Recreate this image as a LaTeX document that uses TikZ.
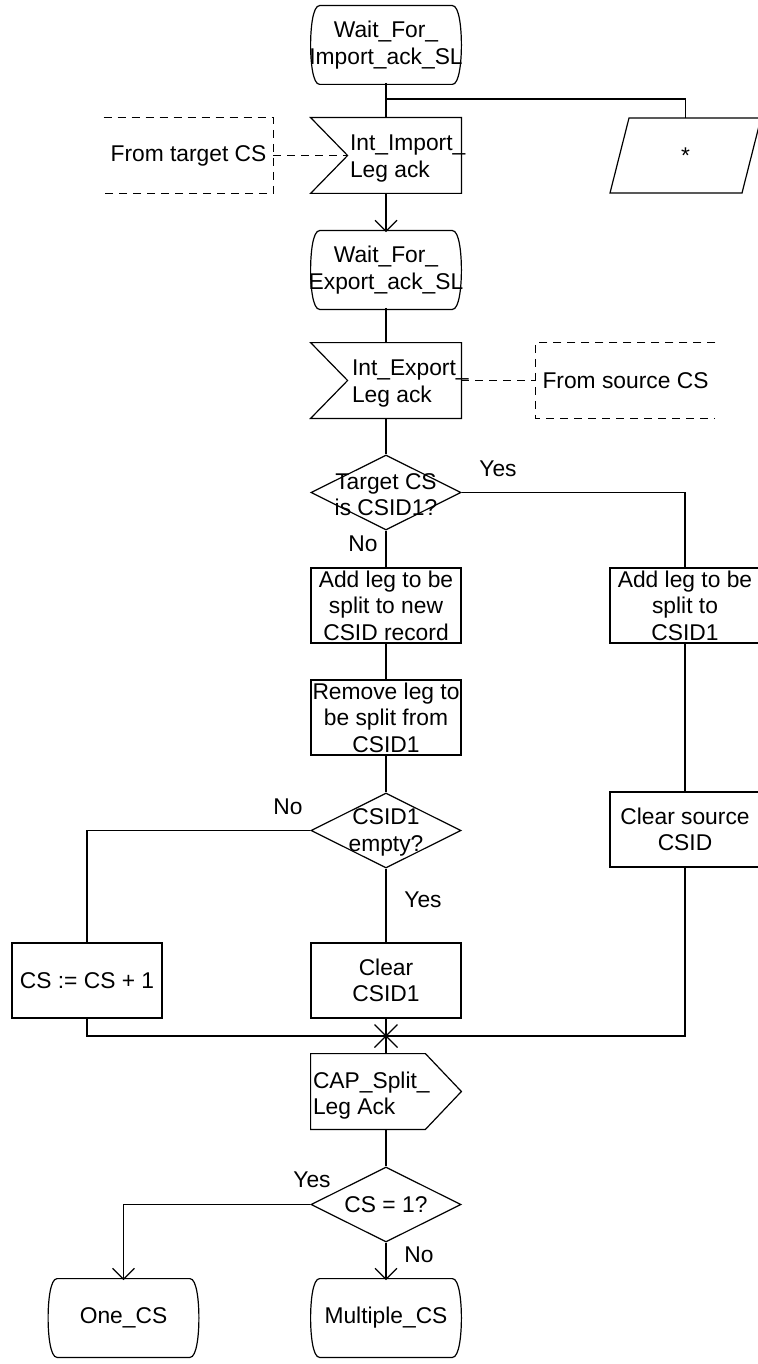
\documentclass[tikz,border=0pt]{standalone}
\usepackage{fontspec}
\setmainfont{Liberation Sans}
\usetikzlibrary{arrows.meta,shapes.geometric,calc}
\tikzset{
  txt/.style={font=\fontsize{11.4}{13.25}\selectfont, align=center, inner sep=0pt},
  box/.style={txt, draw, line width=0.6pt, minimum width=75pt, minimum height=37.5pt,
              inner xsep=-12pt, inner ysep=-8pt},
  statebox/.style={txt, minimum width=75pt, minimum height=37.5pt, inner xsep=-12pt, inner ysep=-8pt},
  decision/.style={draw, line width=0.6pt, diamond, shape aspect=2, minimum width=75pt,
                   minimum height=37.5pt, inner sep=0pt},
  sigbox/.style={txt, minimum width=75pt, minimum height=37.5pt},
  note/.style={txt, minimum height=37.5pt},
  ln/.style={line width=0.6pt},
  ar/.style={ln, -{Straight Barb[length=5.5pt,width=11pt]}},
  dsh/.style={ln, dash pattern=on 4pt off 3pt}
}
\begin{document}
\begin{tikzpicture}[x=0.5pt,y=-0.5pt]
  \useasboundingbox (0,0) rectangle (758,1364);
  % states
  \node[statebox] (w1) at (386,45) {Wait\_For\_\\Import\_ack\_SL};
  \node[statebox] (w2) at (386,270) {Wait\_For\_\\Export\_ack\_SL};
  \node[statebox] (one) at (123.5,1318) {One\_CS};
  \node[statebox] (multi) at (386,1318) {Multiple\_CS};
  \foreach \n in {w1,w2,one,multi}
    \draw[ln] ($(\n.north west)+(9,-1.5)$) -- ($(\n.north east)+(-9,-1.5)$)
      .. controls +(7,0) and +(0,-16) .. (\n.east)
      .. controls +(0,16) and +(7,0) .. ($(\n.south east)+(-9,1.5)$)
      -- ($(\n.south west)+(9,1.5)$)
      .. controls +(-7,0) and +(0,16) .. (\n.west)
      .. controls +(0,-16) and +(-7,0) .. cycle;

  % input signals
  \node[sigbox] (imp) at (386,155.5) {};
  \draw[ln] (imp.north west) -- (imp.north east) -- (imp.south east) -- (imp.south west)
    -- ($(imp.west)+(37,0)$) coordinate (impin) -- cycle;
  \node[txt, anchor=west, align=left] (imptxt) at ($(imp.west)+(39,3)$) {Int\_Import\_\\Leg ack};
  \node[sigbox] (exp) at (386,380.5) {};
  \draw[ln] (exp.north west) -- (exp.north east) -- (exp.south east) -- (exp.south west)
    -- ($(exp.west)+(37,0)$) -- cycle;
  \node[txt, anchor=west, align=left] (exptxt) at ($(exp.west)+(41,3)$) {Int\_Export\_\\Leg ack};

  % output signal
  \node[sigbox] (cap) at (386,1091.5) {};
  \draw[ln] (cap.north west) -- ($(cap.north east)+(-36,0)$) -- (cap.east)
    -- ($(cap.south east)+(-36,0)$) -- (cap.south west) -- cycle;
  \node[txt, anchor=west, align=left] (captxt) at ($(cap.west)+(2,4)$) {CAP\_Split\_\\Leg Ack};

  % save symbol
  \node[sigbox] (star) at (685.5,155.5) {*};
  \draw[ln, shift={(star.center)}] (-75.5,37.5) -- (-56.5,-37.5) -- (75.5,-37.5) -- (56.5,37.5) -- cycle;

  % environment
  \node[note, minimum width=84.5pt] (tgt) at (188.5,155.5) {From target CS};
  \draw[dsh] (tgt.north west) -- (tgt.north east) -- (tgt.south east) -- (tgt.south west);
  \node[note, minimum width=89.5pt] (src) at (625.5,380.5) {From source CS};
  \draw[dsh] (src.north east) -- (src.north west) -- (src.south west) -- (src.south east);

  % decisions
  \node[decision, label={[txt, yshift=-1pt]center:Target CS\\is CSID1?}] (d1) at (386,492.5) {};
  \node[decision, label={[txt, yshift=-1pt]center:CSID1\\empty?}] (d2) at (386,830.5) {};
  \node[decision, label={[txt]center:CS = 1?}] (d3) at (386,1204.5) {};

  % tasks
  \node[box] (add1) at (386,605.5) {Add leg to be\\split to new\\CSID record};
  \node[box] (add2) at (685,605.5) {Add leg to be\\split to\\CSID1};
  \node[box] (rem) at (386,717.5) {Remove leg to\\be split from\\CSID1};
  \node[box] (clr) at (685,829.5) {Clear source\\CSID};
  \node[box] (inc) at (87,980.5) {CS := CS + 1};
  \node[box] (c1) at (386,980.5) {Clear\\CSID1};

  % flow
  \coordinate (br) at (386,99);
  \coordinate (mg) at (386,1036);
  \draw[ln] (w1) -- (imp);
  \draw[ln] (br) -| (star.north);
  \draw[dsh] (tgt.east) -- (impin);
  \draw[ar] (imp) -- (w2);
  \draw[ln] (w2) -- (exp);
  \draw[dsh] (exp.east) -- (src.west);
  \draw[ln] (exp) -- (d1);
  \draw[ln] (d1.east) -| (add2.north);
  \draw[ln] (d1) -- (add1);
  \draw[ln] (add1) -- (rem);
  \draw[ln] (rem) -- (d2);
  \draw[ln] (add2) -- (clr);
  \draw[ln] (d2.west) -| (inc.north);
  \draw[ln] (d2) -- (c1);
  \draw[ln] (inc.south) |- (mg);
  \draw[ln] (clr.south) |- (mg);
  \draw[ln] (c1) -- (mg) -- (cap);
  \draw[ln] (mg) +(-11.5,-11.5) -- +(11.5,11.5) +(-11.5,11.5) -- +(11.5,-11.5);
  \draw[ln] (cap) -- (d3);
  \draw[ar] (d3.west) -| (one.north);
  \draw[ar] (d3) -- (multi);

  % branch labels
  \node[txt] (yes1) at (498,469) {Yes};
  \node[txt] (no1) at (363,544) {No};
  \node[txt] (no2) at (288,807) {No};
  \node[txt] (yes2) at (423,900) {Yes};
  \node[txt] (yes3) at (312,1180) {Yes};
  \node[txt] (no3) at (419,1255) {No};
\end{tikzpicture}
\end{document}
